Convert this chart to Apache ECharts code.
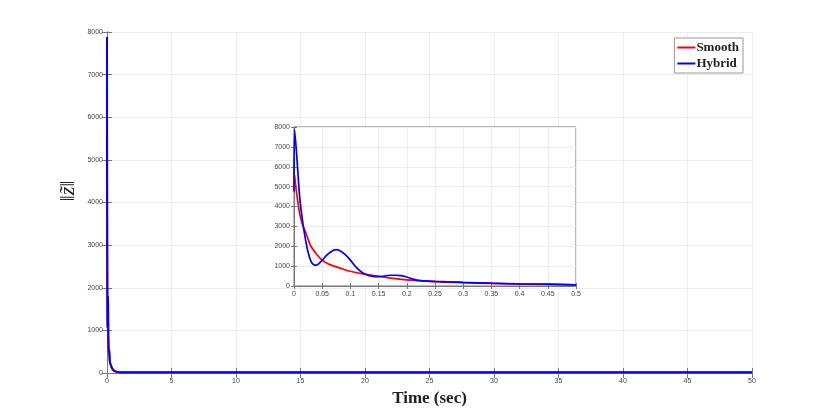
<!DOCTYPE html>
<html>
<head>
<meta charset="utf-8">
<script src="https://cdn.jsdelivr.net/npm/echarts@6/dist/echarts.min.js"></script>
<style>html,body{margin:0;padding:0;background:#fff}#c{width:830px;height:420px}</style>
</head>
<body>
<div id="c"></div>
<script>
// ---- data ----
const smoothT = [0.001, 0.005, 0.01, 0.015, 0.02, 0.025, 0.03, 0.04, 0.05, 0.06, 0.075, 0.09, 0.1, 0.12, 0.15, 0.18, 0.2, 0.25, 0.3, 0.35, 0.4, 0.45, 0.5];
const smoothV = [5570, 4600, 3650, 3100, 2750, 2350, 2000, 1600, 1300, 1120, 960, 820, 740, 620, 490, 370, 310, 220, 170, 130, 100, 85, 55];
const hybridT = [0, 0.001, 0.005, 0.01, 0.015, 0.02, 0.025, 0.03, 0.035, 0.04, 0.045, 0.05, 0.06, 0.07, 0.075, 0.08, 0.09, 0.1, 0.11, 0.12, 0.13, 0.14, 0.15, 0.16, 0.17, 0.18, 0.19, 0.2, 0.21, 0.22, 0.25, 0.3, 0.35, 0.4, 0.45, 0.5];
const hybridV = [4750, 7880, 6500, 4500, 3300, 2400, 1700, 1250, 1070, 1050, 1150, 1300, 1600, 1800, 1830, 1800, 1600, 1300, 950, 700, 550, 480, 470, 500, 540, 540, 520, 450, 350, 280, 230, 180, 140, 110, 90, 60];
const tailT = [0.6, 0.7, 0.8, 1, 2, 5, 10, 15, 20, 25, 30, 35, 40, 45, 50];
const smoothTailV = [40, 30, 22, 15, 12, 12, 12, 12, 12, 12, 12, 12, 12, 12, 12];
const hybridTailV = [45, 32, 24, 18, 15, 15, 16, 15, 16, 15, 15, 16, 15, 16, 15];
const mainXTicks = [0, 50, 5];
const mainYTicks = [0, 8000, 1000];
const insetXTicks = [0, 0.5, 0.05];
const insetYTicks = [0, 8000, 1000];

const pairs = (t, v) => t.map((x, i) => [x, v[i]]);
const smoothAll = pairs(smoothT.concat(tailT), smoothV.concat(smoothTailV));
const hybridAll = pairs(hybridT.concat(tailT), hybridV.concat(hybridTailV));
const smoothIn = pairs(smoothT, smoothV);
const hybridIn = pairs(hybridT, hybridV);

const lab = { fontSize: 7, color: '#444', fontFamily: 'Liberation Sans' };
const gl = { show: true, lineStyle: { color: '#ececec', width: 1 } };
const axLine = { show: true, lineStyle: { color: '#777', width: 1 } };
const plainFmt = v => (Math.round(v * 100) / 100).toString();

function xAx(grid, r, pos, labels, tickLen) {
  return {
    type: 'value', gridIndex: grid, position: pos, min: r[0], max: r[1], interval: r[2],
    axisLine: axLine, axisTick: { show: true, inside: true, length: tickLen, lineStyle: { color: '#777' } },
    axisLabel: labels ? Object.assign({ margin: 5, formatter: plainFmt }, lab) : { show: false },
    splitLine: labels ? gl : { show: false }
  };
}
function yAx(grid, r, pos, labels, tickLen) {
  return {
    type: 'value', gridIndex: grid, position: pos, min: r[0], max: r[1], interval: r[2],
    axisLine: axLine, axisTick: { show: true, inside: true, length: tickLen, lineStyle: { color: '#777' } },
    axisLabel: labels ? Object.assign({ margin: 4, formatter: plainFmt }, lab) : { show: false },
    splitLine: labels ? gl : { show: false }
  };
}

const chart = echarts.init(document.getElementById('c'), null, { renderer: 'canvas' });
chart.setOption({
  backgroundColor: '#fff',
  animation: false,
  grid: [
    { left: 107, right: 78, top: 32, bottom: 47 },
    { left: 294, right: 254, top: 127, bottom: 134, show: true, backgroundColor: '#fff', borderColor: '#777', z: 5 }
  ],
  xAxis: [
    Object.assign(xAx(0, mainXTicks, 'bottom', true, 5), {
      name: 'Time (sec)', nameLocation: 'middle', nameGap: 14,
      nameTextStyle: { fontFamily: 'Liberation Serif', fontWeight: 'bold', fontSize: 17, color: '#222' }
    }),
    xAx(0, mainXTicks, 'top', false, 5),
    Object.assign(xAx(1, insetXTicks, 'bottom', true, 3), { z: 6 }),
    Object.assign(xAx(1, insetXTicks, 'top', false, 3), { z: 6 })
  ],
  yAxis: [
    yAx(0, mainYTicks, 'left', true, 5),
    yAx(0, mainYTicks, 'right', false, 5),
    Object.assign(yAx(1, insetYTicks, 'left', true, 3), { z: 6 }),
    Object.assign(yAx(1, insetYTicks, 'right', false, 3), { z: 6 })
  ],
  legend: {
    right: 87, top: 38, orient: 'vertical',
    backgroundColor: '#fff', borderColor: '#999', borderWidth: 1, borderRadius: 0,
    padding: [3, 4, 3, 3], itemGap: 3, itemWidth: 18, itemHeight: 2, icon: 'rect',
    textStyle: { fontFamily: 'Liberation Serif', fontWeight: 'bold', fontSize: 13, color: '#222', padding: [0, 0, 0, -4] },
    data: ['Smooth', 'Hybrid']
  },
  graphic: [{
    type: 'text', x: 68, y: 191, rotation: Math.PI / 2,
    style: { text: '‖z̃‖', font: 'italic 22px "Liberation Serif"', fill: '#222', align: 'center', verticalAlign: 'middle' }
  }],
  series: [
    { name: 'Smooth', type: 'line', xAxisIndex: 0, yAxisIndex: 0, data: smoothAll, showSymbol: false, lineStyle: { color: '#ff0000', width: 2 }, itemStyle: { color: '#ff0000' } },
    { name: 'Hybrid', type: 'line', xAxisIndex: 0, yAxisIndex: 0, data: hybridAll, showSymbol: false, lineStyle: { color: '#0000ff', width: 2 }, itemStyle: { color: '#0000ff' } },
    { name: 'Smooth', type: 'line', xAxisIndex: 2, yAxisIndex: 2, data: smoothIn, showSymbol: false, smooth: 0.3, z: 7, lineStyle: { color: '#ff0000', width: 1.7 }, itemStyle: { color: '#ff0000' } },
    { name: 'Hybrid', type: 'line', xAxisIndex: 2, yAxisIndex: 2, data: hybridIn, showSymbol: false, smooth: 0.3, z: 7, lineStyle: { color: '#0000ff', width: 1.7 }, itemStyle: { color: '#0000ff' } }
  ]
});
</script>
</body>
</html>
